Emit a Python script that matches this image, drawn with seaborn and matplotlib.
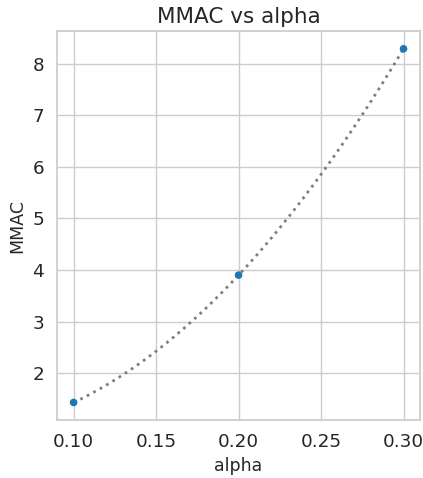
import matplotlib
matplotlib.use("Agg")
import matplotlib.pyplot as plt
import numpy as np
import pandas as pd
import seaborn as sns

# values
alpha = [0.10, 0.20, 0.30]
mmac = [1.43, 3.90, 8.29]

df = pd.DataFrame({"alpha": alpha, "MMAC": mmac})

sns.set_theme(style="whitegrid", font_scale=1.2)

fig = plt.figure(figsize=(4.23, 4.78), dpi=100)
ax = fig.add_axes([0.135, 0.121, 0.858, 0.814])

# smooth dotted trend through the points (quadratic fit done by seaborn)
sns.regplot(data=df, x="alpha", y="MMAC", order=2, ci=None, scatter=False,
            truncate=True, ax=ax,
            line_kws=dict(color="gray", linestyle=":", linewidth=2))
sns.scatterplot(data=df, x="alpha", y="MMAC", ax=ax, color="#1f77b4",
                s=30, edgecolor="none", zorder=3)

ax.set_xticks([0.10, 0.15, 0.20, 0.25, 0.30])
ax.set_xticklabels(["0.10", "0.15", "0.20", "0.25", "0.30"])
ax.set_yticks([2, 3, 4, 5, 6, 7, 8])
ax.margins(0.05)
ax.set_title("MMAC vs alpha", fontsize=15.5)
ax.set_xlabel("alpha", fontsize=12.5)
ax.set_ylabel("MMAC", fontsize=12.5)

fig.savefig("out.png", dpi=100)
